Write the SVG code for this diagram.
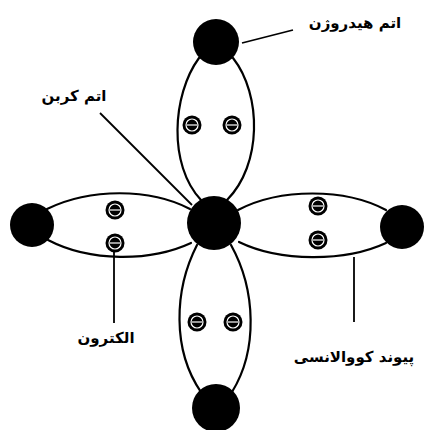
<svg xmlns="http://www.w3.org/2000/svg" width="425" height="430" viewBox="0 0 425 430">
  <style>
    .lobe { fill: none; stroke: #000; stroke-width: 2.2; stroke-linecap: round; }
    .lead { fill: none; stroke: #000; stroke-width: 1.8; }
    .atom { fill: #000; }
    .label { font-family: "DejaVu Sans", sans-serif; font-size: 15px; font-weight: bold; fill: #000; text-anchor: middle; }
  </style>
  <defs>
    <!-- electron: dark disc with a white ring and minus bar -->
    <g id="electron">
      <circle r="9.5" fill="#000"/>
      <circle r="6" fill="none" stroke="#fff" stroke-width="1.2"/>
      <line x1="-5" y1="0" x2="5" y2="0" stroke="#fff" stroke-width="1.2"/>
    </g>
  </defs>
  <rect width="425" height="430" fill="#fff"/>

  <!-- bond lobes and label leader lines -->
  <g id="connectors">
    <path class="lobe" d="M199 58 C172 95 168 165 201 200"/>
    <path class="lobe" d="M233 58 C262 95 262 165 227 200"/>
    <path class="lobe" d="M197 245 C174 290 172 350 201 392"/>
    <path class="lobe" d="M231 245 C256 290 258 350 232 392"/>
    <path class="lobe" d="M47 209 C90 188 150 188 190 209"/>
    <path class="lobe" d="M48 240 C90 262 150 262 191 243"/>
    <path class="lobe" d="M238 210 C280 188 345 188 386 210"/>
    <path class="lobe" d="M239 242 C280 262 345 262 386 243"/>
    <line class="lead" x1="242" y1="43" x2="293" y2="30"/>
    <line class="lead" x1="100" y1="113" x2="192" y2="205"/>
    <line class="lead" x1="114" y1="250" x2="114" y2="323"/>
    <line class="lead" x1="354" y1="257" x2="354" y2="322"/>
  </g>

  <g id="carbon"><circle class="atom" cx="214" cy="223" r="27"/></g>
  <g id="h-top"><circle class="atom" cx="216" cy="42" r="23"/></g>
  <g id="h-bottom"><circle class="atom" cx="216" cy="408" r="24"/></g>
  <g id="h-left"><circle class="atom" cx="32" cy="225" r="22"/></g>
  <g id="h-right"><circle class="atom" cx="402" cy="227" r="22"/></g>

  <g id="electrons">
    <use href="#electron" x="192" y="125"/>
    <use href="#electron" x="232" y="125"/>
    <use href="#electron" x="115" y="210"/>
    <use href="#electron" x="115" y="243"/>
    <use href="#electron" x="318" y="206"/>
    <use href="#electron" x="318" y="240"/>
    <use href="#electron" x="197" y="322"/>
    <use href="#electron" x="233" y="322"/>
  </g>

  <g id="labels">
    <text class="label" x="355" y="28">اتم هیدروژن</text>
    <text class="label" x="74" y="101">اتم کربن</text>
    <text class="label" x="106" y="343">الکترون</text>
    <text class="label" x="354" y="362">پیوند کووالانسی</text>
  </g>
</svg>
